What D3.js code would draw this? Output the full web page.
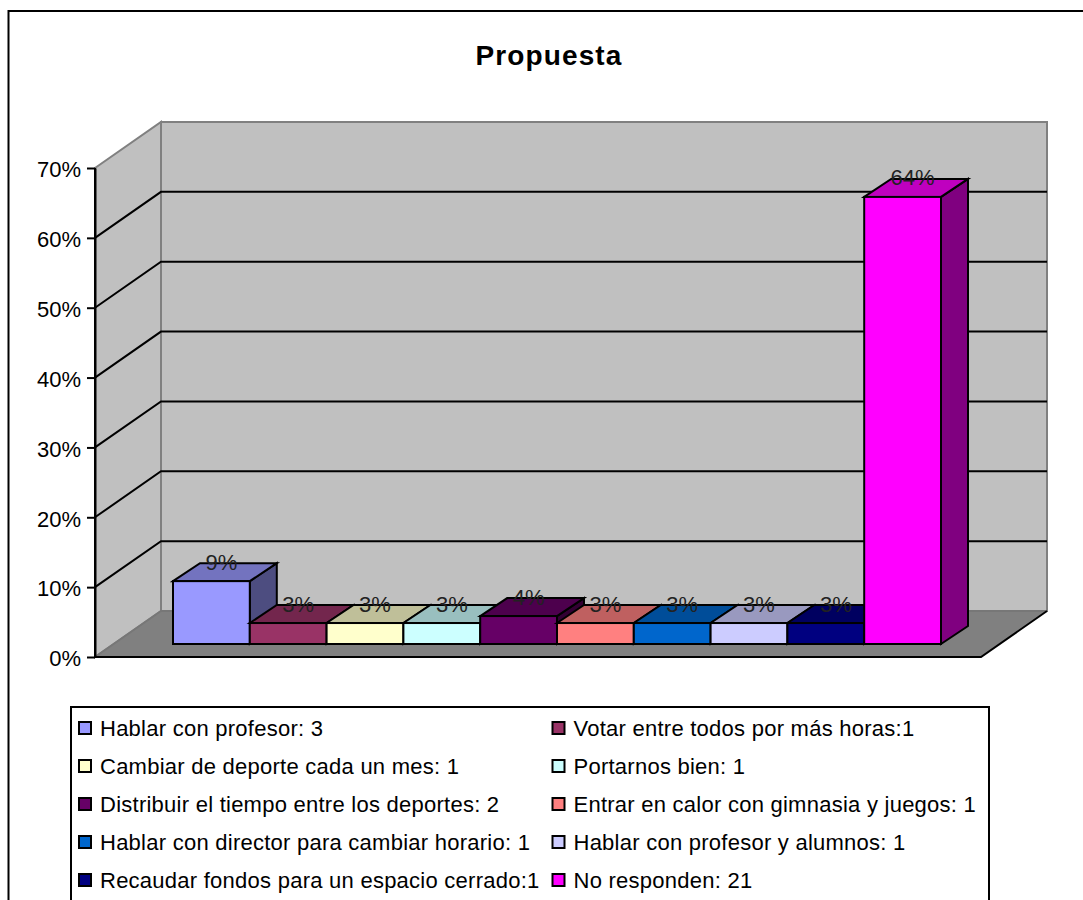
<!DOCTYPE html>
<html><head><meta charset="utf-8">
<script src="https://cdn.jsdelivr.net/npm/d3@7"></script>
<style>html,body{margin:0;padding:0;background:#fff;overflow:hidden}svg{display:block}text{font-family:"Liberation Sans",Arial,sans-serif;fill:#000}</style>
</head><body><svg id="c" width="1083" height="900"></svg>
<script>
const title = "Propuesta";
const categories = ["Hablar con profesor: 3","Votar entre todos por más horas:1","Cambiar de deporte cada un mes: 1","Portarnos bien: 1","Distribuir el tiempo entre los deportes: 2","Entrar en calor con gimnasia y juegos: 1","Hablar con director para cambiar horario: 1","Hablar con profesor y alumnos: 1","Recaudar fondos para un espacio cerrado:1","No responden: 21"];
const values = [9,3,3,3,4,3,3,3,3,64];
const colors = ["#9999FF","#993366","#FFFFCC","#CCFFFF","#660066","#FF8080","#0066CC","#CCCCFF","#000080","#FF00FF"];
const tickValues = [0,10,20,30,40,50,60,70];

const svg = d3.select("#c");
const y = d3.scaleLinear().domain([0,70]).range([657,168]);
const x = d3.scaleBand().domain(categories).range([173,941]).padding(0);
const wallDX=66, wallDY=-46, barDX=27, barDY=-18, barBaseShift=-13;
const x0=95, xFloorR=981;

// outer frame
svg.append("path").attr("d","M8.5,900V11H1083").attr("fill","none").attr("stroke","#000").attr("stroke-width",2);
// title
svg.append("text").attr("x",549).attr("y",65).attr("text-anchor","middle").attr("font-size",28).attr("font-weight","bold").attr("letter-spacing",1.1).text(title);

const top70=y(70), bot=y(0);
// back wall
svg.append("rect").attr("x",x0+wallDX).attr("y",top70+wallDY).attr("width",xFloorR-x0).attr("height",bot-top70)
  .attr("fill","#C0C0C0").attr("stroke","#808080").attr("stroke-width",2);
// side wall
svg.append("path").attr("d",`M${x0},${top70}L${x0+wallDX},${top70+wallDY}V${bot+wallDY}L${x0},${bot}Z`)
  .attr("fill","#C0C0C0").attr("stroke","#808080").attr("stroke-width",2);
// floor
svg.append("path").attr("d",`M${x0},${bot}L${x0+wallDX},${bot+wallDY}H${xFloorR+wallDX}L${xFloorR},${bot}Z`).attr("fill","#808080");
svg.append("path").attr("d",`M${x0},${bot}L${x0+wallDX},${bot+wallDY}H${xFloorR+wallDX}`).attr("fill","none").attr("stroke","#777").attr("stroke-width",2);
svg.append("path").attr("d",`M${x0},${bot}H${xFloorR}L${xFloorR+wallDX},${bot+wallDY}`).attr("fill","none").attr("stroke","#000").attr("stroke-width",2);
// gridlines
svg.append("g").selectAll("path").data(tickValues.filter(d=>d>0&&d<70)).join("path")
  .attr("d",d=>`M${x0},${y(d)}L${x0+wallDX},${y(d)+wallDY}H${xFloorR+wallDX}`)
  .attr("fill","none").attr("stroke","#000").attr("stroke-width",2);
svg.append("path").attr("d",`M${x0},${top70}V${bot}`).attr("stroke","#000").attr("stroke-width",2);
// axis
const axis = d3.axisLeft(y).tickValues(tickValues).tickFormat(d=>d+"%").tickSize(8).tickSizeOuter(0).tickPadding(6);
const ag = svg.append("g").attr("transform",`translate(${x0},0)`).call(axis);
ag.select(".domain").attr("stroke","#000").attr("stroke-width",2);
ag.selectAll(".tick line").attr("stroke","#000").attr("stroke-width",2);
ag.selectAll(".tick text").attr("font-size",22).attr("dy","0.4em").attr("font-family",'"Liberation Sans",Arial,sans-serif').attr("fill","#000");

// bars
const shade=(c,k)=>{const r=d3.rgb(c);return d3.rgb(r.r*k,r.g*k,r.b*k).formatHex();};
const data = categories.map((c,i)=>({c,v:values[i],col:colors[i]}));
const bars = svg.append("g").attr("stroke","#000").attr("stroke-width",2).attr("stroke-linejoin","miter");
const g = bars.selectAll("g").data(data).join("g");
const X0=d=>x(d.c), X1=d=>x(d.c)+x.bandwidth(), YT=d=>y(d.v)+barBaseShift, YB=()=>y(0)+barBaseShift;
g.append("path").attr("fill",d=>shade(d.col,0.5))
  .attr("d",d=>`M${X1(d)},${YT(d)}l${barDX},${barDY}V${YB()+barDY}L${X1(d)},${YB()}Z`);
g.append("path").attr("fill",d=>shade(d.col,0.75))
  .attr("d",d=>`M${X0(d)},${YT(d)}l${barDX},${barDY}H${X1(d)+barDX}L${X1(d)},${YT(d)}Z`);
g.append("rect").attr("fill",d=>d.col).attr("x",X0).attr("y",YT).attr("width",x.bandwidth()).attr("height",d=>YB()-YT(d));
// value labels
svg.append("g").selectAll("text").data(data).join("text")
  .attr("x",d=>x(d.c)+x.bandwidth()/2+10).attr("y",d=>YT(d)+barDY+6.5)
  .attr("text-anchor","middle").attr("font-size",22).style("fill","#222").text(d=>d.v+"%");

// legend
svg.append("rect").attr("x",71).attr("y",707).attr("width",918).attr("height",230).attr("fill","#fff").attr("stroke","#000").attr("stroke-width",2);
const colX=d3.scaleOrdinal().domain([0,1]).range([78,551.5]);
const rowY=d3.scalePoint().domain(d3.range(5)).range([728,880]);
const lg=svg.append("g").selectAll("g").data(data).join("g")
  .attr("transform",(d,i)=>`translate(${colX(i%2)},${rowY(Math.floor(i/2))})`);
lg.append("rect").attr("x",1).attr("y",-6).attr("width",12).attr("height",12).attr("fill",d=>d.col).attr("stroke","#000").attr("stroke-width",2);
lg.append("text").attr("x",22).attr("y",8).attr("font-size",22).attr("letter-spacing",0.25).text(d=>d.c);
</script></body></html>
